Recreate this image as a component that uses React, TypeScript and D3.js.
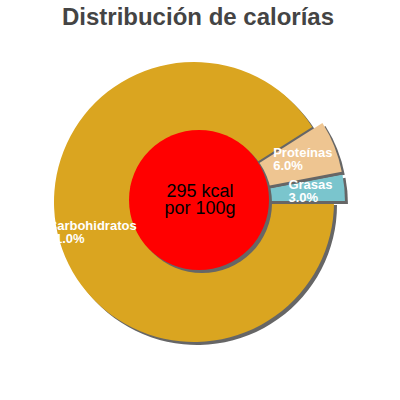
import React from "react";
import * as d3 from "d3";

const categories = ["Carbohidratos", "Proteínas", "Grasas"];
const percents = [91.0, 6.0, 3.0];
const colors = ["#DAA520", "#EEC591", "#7AC5CD"];
const centerLines = ["295 kcal", "por 100g"];
const title = "Distribución de calorías";

const W = 400;
const H = 400;
const cx = 194;
const cy = 202;
const R = 140;
const innerCx = 199;
const innerCy = 200;
const innerR = 70;
const explodeOffset = 11;
const labelR = 106;
const shadowDx = 3;
const shadowDy = 3;
const shadowColor = "#666666";
const labelFont = "bold 13px 'Liberation Sans', Arial, sans-serif";

function measure(text: string, font: string): number {
  const c = document.createElement("canvas");
  const ctx = c.getContext("2d");
  if (!ctx) return text.length * 7;
  ctx.font = font;
  return ctx.measureText(text).width;
}

export default function App() {
  const pie = d3
    .pie<number>()
    .sort(null)
    .startAngle(Math.PI / 2)
    .endAngle(Math.PI / 2 + 2 * Math.PI);
  const arcs = pie(percents);
  const arcGen = d3.arc<d3.PieArcDatum<number>>().innerRadius(0).outerRadius(R);
  const labelArc = d3
    .arc<d3.PieArcDatum<number>>()
    .innerRadius(labelR)
    .outerRadius(labelR);

  const slices = arcs.map((a, i) => {
    const mid = (a.startAngle + a.endAngle) / 2;
    const ex = i === 0 ? 0 : explodeOffset;
    const dx = Math.sin(mid) * ex;
    const dy = -Math.cos(mid) * ex;
    const [lx, ly] = labelArc.centroid(a);
    const lines = [categories[i], percents[i].toFixed(1) + "%"];
    const maxW = Math.max(...lines.map((l) => measure(l, labelFont)));
    return { a, i, dx, dy, lx: lx + dx, ly: ly + dy, lines, maxW };
  });

  return (
    <div style={{ position: "fixed", left: 0, top: 0, width: W, height: H, background: "#fff" }}>
      <svg width={W} height={H} style={{ display: "block" }}>
        <text
          x={198}
          y={25}
          textAnchor="middle"
          fontFamily="'Liberation Sans', Arial, sans-serif"
          fontWeight="bold"
          fontSize={24}
          fill="#444444"
        >
          {title}
        </text>
        <g transform={`translate(${cx},${cy})`}>
          {slices.map((s) => (
            <g key={s.i}>
              <path
                d={arcGen(s.a) || ""}
                transform={`translate(${s.dx + shadowDx},${s.dy + shadowDy})`}
                fill={shadowColor}
              />
              <path
                d={arcGen(s.a) || ""}
                transform={`translate(${s.dx},${s.dy})`}
                fill={colors[s.i]}
              />
            </g>
          ))}
        </g>
        <circle cx={innerCx + shadowDx} cy={innerCy + shadowDy} r={innerR} fill={shadowColor} />
        <circle cx={innerCx} cy={innerCy} r={innerR} fill="#FF0000" />
        <g transform={`translate(${cx},${cy})`}>
          {slices.map((s) => {
            const x0 = s.lx - s.maxW / 2;
            const b1 = s.ly - 1.85;
            return (
              <text
                key={s.i}
                fontFamily="'Liberation Sans', Arial, sans-serif"
                fontWeight="bold"
                fontSize={13}
                fill="#ffffff"
              >
                {s.lines.map((l, j) => (
                  <tspan key={j} x={x0} y={b1 + j * 13}>
                    {l}
                  </tspan>
                ))}
              </text>
            );
          })}
        </g>
        <text
          textAnchor="middle"
          fontFamily="'Liberation Sans', Arial, sans-serif"
          fontSize={18}
          fill="#000000"
        >
          {centerLines.map((l, j) => (
            <tspan key={j} x={200} y={196.7 + j * 17}>
              {l}
            </tspan>
          ))}
        </text>
      </svg>
    </div>
  );
}
